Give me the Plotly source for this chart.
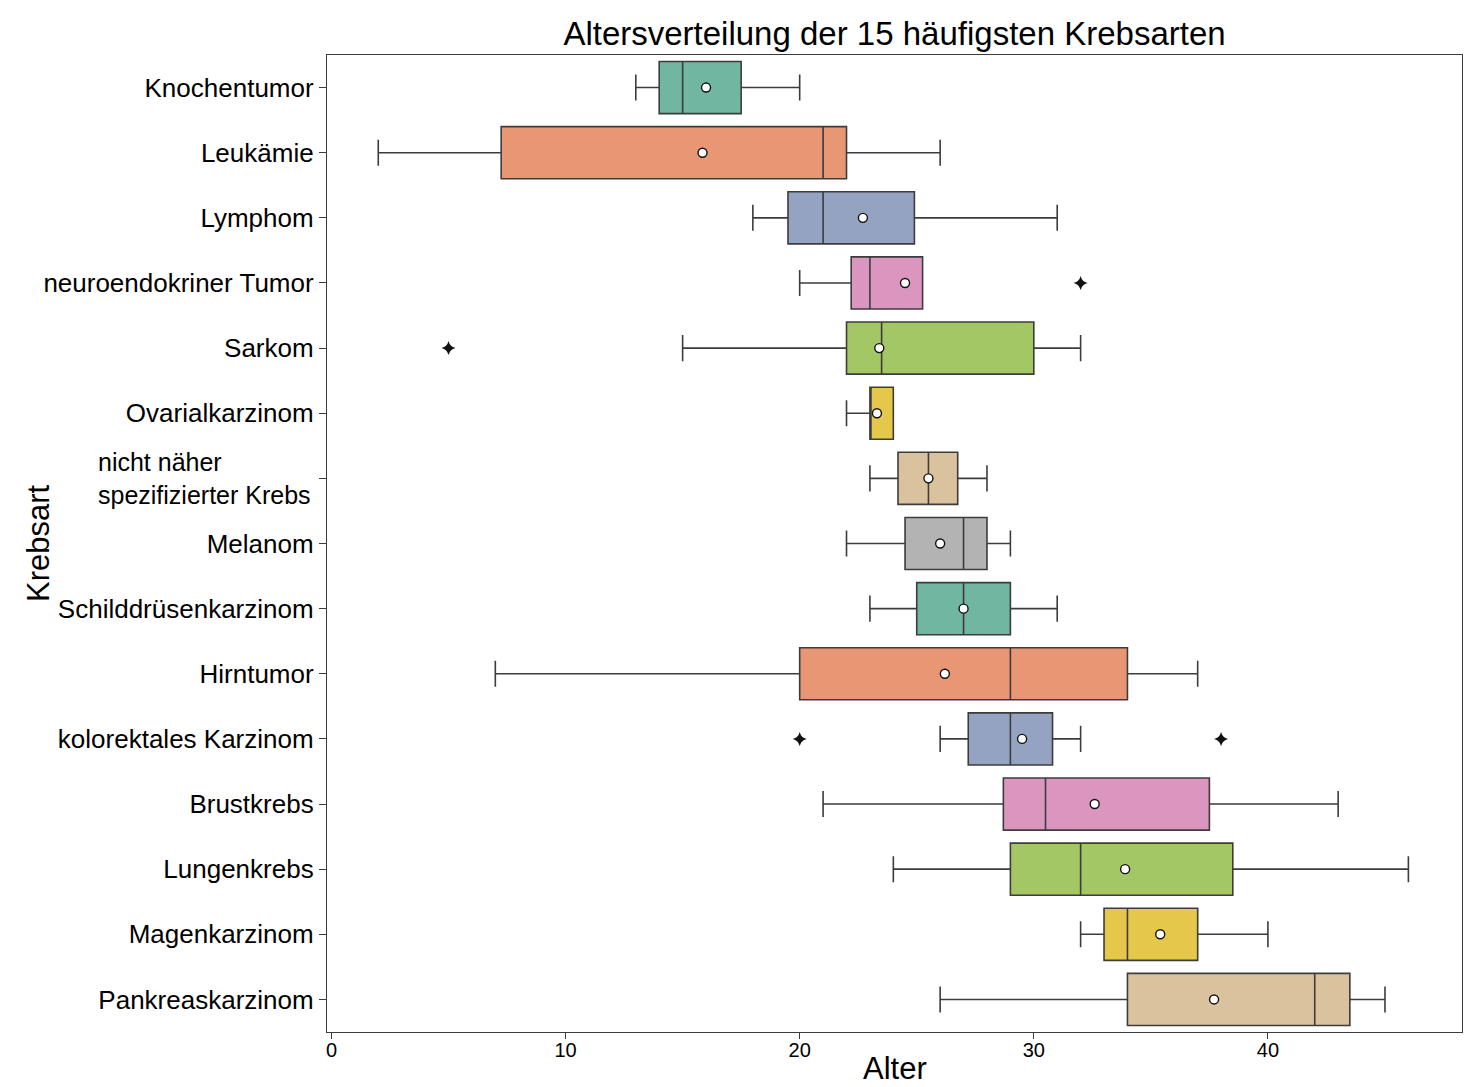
import plotly.graph_objects as go

# ---------------- data ----------------
categories = [
    "Knochentumor", "Leukämie", "Lymphom", "neuroendokriner Tumor", "Sarkom",
    "Ovarialkarzinom", "nicht näher spezifizierter Krebs", "Melanom",
    "Schilddrüsenkarzinom", "Hirntumor", "kolorektales Karzinom", "Brustkrebs",
    "Lungenkrebs", "Magenkarzinom", "Pankreaskarzinom",
]
lower_whisker = [13, 2, 18, 20, 15, 22, 23, 22, 23, 7, 26, 21, 24, 32, 26]
q1_values     = [14, 7.25, 19.5, 22.2, 22, 23, 24.2, 24.5, 25, 20, 27.2, 28.7, 29, 33, 34]
median_values = [15, 21, 21, 23, 23.5, 23, 25.5, 27, 27, 29, 29, 30.5, 32, 34, 42]
q3_values     = [17.5, 22, 24.9, 25.25, 30, 24, 26.75, 28, 29, 34, 30.8, 37.5, 38.5, 37, 43.5]
upper_whisker = [20, 26, 31, 25.25, 32, 24, 28, 29, 31, 37, 32, 43, 46, 40, 45]
mean_values   = [16.0, 15.85, 22.7, 24.5, 23.4, 23.3, 25.5, 26.0, 27.0, 26.2, 29.5, 32.6, 33.9, 35.4, 37.7]
outlier_categories = ["neuroendokriner Tumor", "Sarkom", "kolorektales Karzinom", "kolorektales Karzinom"]
outlier_values     = [32, 5, 20, 38]
x_ticks = [0, 10, 20, 30, 40]

palette = ["#71b6a0", "#e99675", "#95a3c3", "#db96c0", "#a2c764", "#e5c849", "#dbc29e", "#b3b3b3"]

LINE = "#3c3c3c"
FONT = "Liberation Sans, Arial, Helvetica, sans-serif"

# page body has an 8px margin, so the figure is sized/offset accordingly
W, H = 1475, 1079
PL, PR, PT, PB = 319, 1454, 47, 1024  # plot area in figure pixels

fig = go.Figure()
for i, cat in enumerate(categories):
    fig.add_trace(go.Box(
        y=[cat], q1=[q1_values[i]], median=[median_values[i]], q3=[q3_values[i]],
        lowerfence=[lower_whisker[i]], upperfence=[upper_whisker[i]],
        orientation="h", fillcolor=palette[i % len(palette)],
        line=dict(color=LINE, width=1.6), width=0.8, whiskerwidth=0.5,
        boxpoints=False, showlegend=False, hoverinfo="skip",
    ))

fig.add_trace(go.Scatter(
    x=outlier_values, y=outlier_categories, mode="markers",
    marker=dict(symbol="star-diamond", size=10, color="#111111", line=dict(width=0)),
    showlegend=False, hoverinfo="skip",
))
fig.add_trace(go.Scatter(
    x=mean_values, y=categories, mode="markers",
    marker=dict(symbol="circle", size=9, color="white", line=dict(color="#111111", width=1.4)),
    showlegend=False, hoverinfo="skip",
))

tick_text = ["" if c.startswith("nicht") else c for c in categories]
nicht_idx = categories.index("nicht näher spezifizierter Krebs")
pw, ph = PR - PL, PB - PT

fig.update_layout(
    width=W, height=H,
    margin=dict(l=PL, r=W - PR, t=PT, b=H - PB),
    plot_bgcolor="white", paper_bgcolor="white",
    boxmode="overlay",
    font=dict(family=FONT, color="black"),
    title=dict(text="Altersverteilung der 15 häufigsten Krebsarten",
               font=dict(size=33, family=FONT, color="black"),
               x=0.5, xref="paper", xanchor="center",
               y=1 - 25 / H, yref="container", yanchor="middle"),
    xaxis=dict(range=[-0.19, 48.29], tickvals=x_ticks, ticks="outside", ticklen=6,
               tickwidth=1.2, tickcolor=LINE, showgrid=False, zeroline=False,
               showline=True, mirror=True, linecolor=LINE, linewidth=1.3,
               ticklabelstandoff=-6,
               tickfont=dict(size=20, family=FONT, color="black")),
    yaxis=dict(type="category", categoryorder="array", categoryarray=categories,
               range=[14.5, -0.5], tickmode="array", tickvals=categories, ticktext=tick_text,
               ticks="outside", ticklen=7, tickwidth=1.2, tickcolor=LINE,
               showgrid=False, zeroline=False, showline=True, mirror=True,
               linecolor=LINE, linewidth=1.3,
               tickfont=dict(size=26, family=FONT, color="black")),
    annotations=[
        dict(text="nicht näher<br>spezifizierter Krebs", xref="paper", x=-(PL - 305) / pw,
             yref="y", y=nicht_idx, xanchor="right", yanchor="middle", align="left",
             showarrow=False, font=dict(size=25, family=FONT, color="black")),
        dict(text="Alter", xref="paper", x=0.5, yref="paper", y=-(1060 - PB) / ph,
             xanchor="center", yanchor="middle", showarrow=False,
             font=dict(size=31, family=FONT, color="black")),
        dict(text="Krebsart", xref="paper", x=(30 - PL) / pw, yref="paper",
             y=(PB - 535) / ph, xanchor="center", yanchor="middle", textangle=-90,
             showarrow=False, font=dict(size=31, family=FONT, color="black")),
    ],
)

fig.write_html("out.html")
